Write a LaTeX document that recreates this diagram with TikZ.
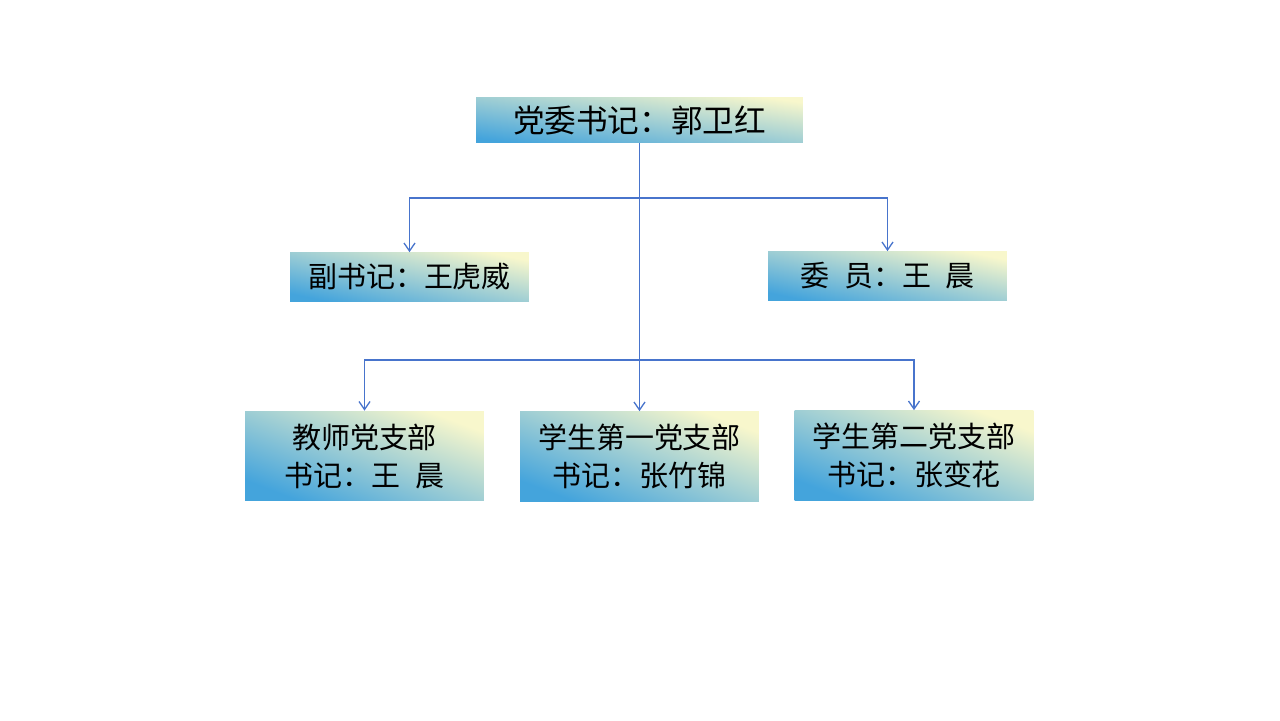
\documentclass[tikz,border=0pt]{standalone}
\usepackage{fontspec}
\newfontfamily\cjk{Noto Sans CJK SC}
\usepackage{tikz}
\usetikzlibrary{positioning,arrows.meta}
\definecolor{boxblue}{RGB}{68,164,220}
\definecolor{boxmid}{RGB}{156,206,214}
\definecolor{boxyellow}{RGB}{248,247,204}
\definecolor{linkblue}{RGB}{72,116,204}
\tikzstyle{post} = [rectangle, inner sep=0pt, text=black, align=center,
                    shading=axis, bottom color=boxblue, middle color=boxmid,
                    top color=boxyellow]
\tikzstyle{topbox} = [post, shading angle=-8, minimum width=6.54cm, minimum height=0.92cm,
                      font=\cjk\fontsize{18}{22}\selectfont]
\tikzstyle{midbox} = [post, shading angle=-12, minimum width=4.78cm, minimum height=0.98cm,
                      font=\cjk\fontsize{16.5}{21.6}\selectfont]
\tikzstyle{lowbox} = [post, shading angle=-21, minimum width=4.78cm, minimum height=1.8cm,
                      font=\cjk\fontsize{16.5}{21.6}\selectfont]
\tikzstyle{link} = [draw, linkblue, line width=0.75pt]
\tikzstyle{ptr}  = [link, -{Straight Barb[length=1.6mm, width=2.2mm]}]
\begin{document}
\begin{tikzpicture}[x=0.02cm, y=-0.02cm]
		\useasboundingbox (0,0) rectangle (1280,720);
		\node[topbox] (dw) at (639.5,120) {党委书记：郭卫红};
		\node[midbox] (fsj) at (409.5,277) {副书记：王虎威};
		\node[midbox] (wy) at (887.5,276) {委\enspace 员：王\enspace 晨};
		\node[lowbox] (js) at (364.5,456) {教师党支部\\书记：王\enspace 晨};
		\node[lowbox] (xs1) at (639.5,456.5) {学生第一党支部\\书记：张竹锦};
		\node[lowbox] (xs2) at (914,455.5) {学生第二党支部\\书记：张变花};

		\coordinate (j1) at (639.5,198);
		\coordinate (j2) at (639.5,360);

		\path[link] (dw.south) -- (j2);
		\draw[ptr] (j1) -| (fsj.north);
		\draw[ptr] (j1) -| (wy.north);
		\draw[ptr] (j2) -| (js.north);
		\draw[ptr] (j2) -- (xs1.north);
		\draw[ptr] (j2) -| (xs2.north);
	\end{tikzpicture}
\end{document}
